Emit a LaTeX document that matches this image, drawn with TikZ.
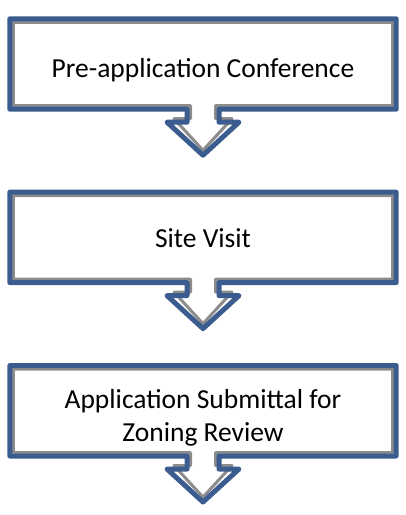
\documentclass[tikz,border=0pt]{standalone}
\usepackage{fontspec}
\setmainfont{Carlito}
\usetikzlibrary{positioning,calc}

\definecolor{boxblue}{HTML}{3B5C8E}
\definecolor{boxgray}{HTML}{8C8C8C}

% outline of a box with a down arrow under it; #2 = inset
\newcommand{\calloutoutline}[3]{%
  \draw[#3] ($(#1.north west)+(#2,-#2)$) -- ($(#1.north east)+(-#2,-#2)$)
    -- ($(#1.south east)+(-#2,#2)$) -- ($(#1.south)+(16-#2,#2)$)
    -- ($(#1.south)+(16-#2,-13+#2)$) -- ($(#1.south)+(36-2*#2,-13+#2)$)
    -- ($(#1.south)+(0,-46+1.4*#2)$) -- ($(#1.south)+(-36+2*#2,-13+#2)$)
    -- ($(#1.south)+(-16+#2,-13+#2)$) -- ($(#1.south)+(-16+#2,#2)$)
    -- ($(#1.south west)+(#2,#2)$) -- cycle;}

\begin{document}
\begin{tikzpicture}[
    x=1pt, y=1pt,
    stepbox/.style={minimum width=386pt, minimum height=90pt, inner sep=0pt},
    steptext/.style={align=center, inner sep=0pt, font=\fontsize{27.5}{33}\selectfont},
    blueline/.style={draw=boxblue, line width=5pt, line join=round},
    grayline/.style={draw=boxgray, line width=3pt, line join=round},
    node distance=83pt
  ]
  \useasboundingbox (0,0) rectangle (406,-515);

  \node[stepbox] (preapp) at (203,-64) {};
  \node[stepbox, below=of preapp] (sitevisit) {};
  \node[stepbox, below=of sitevisit] (submittal) {};

  \node[steptext] (preapptext) at ([yshift=-6pt]preapp.center) {Pre-application Conference};
  \node[steptext] (sitevisittext) at ([yshift=-1pt]sitevisit.center) {Site Visit};
  \node[steptext] (submittaltext) at ([yshift=-7pt]submittal.center) {Application Submittal for\\Zoning Review};

  \foreach \n in {preapp,sitevisit,submittal} {
    \calloutoutline{\n}{3.5}{grayline}
    \calloutoutline{\n}{0}{blueline}
  }
\end{tikzpicture}
\end{document}
